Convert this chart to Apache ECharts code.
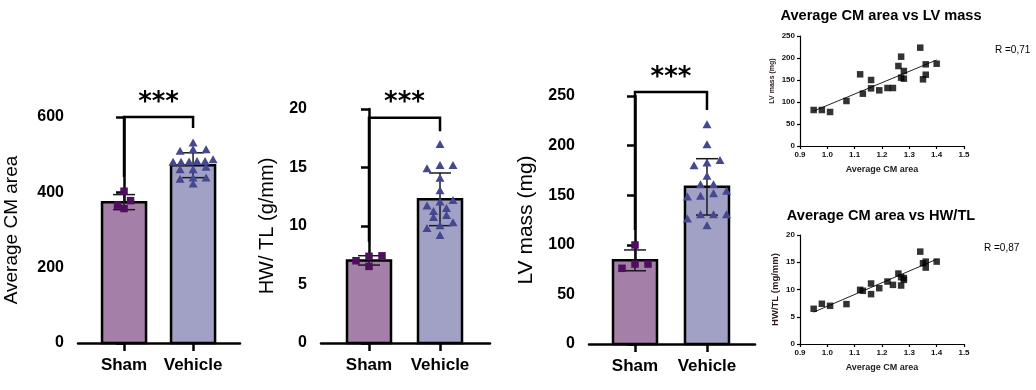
<!DOCTYPE html>
<html><head><meta charset="utf-8">
<script src="https://cdn.jsdelivr.net/npm/echarts@6/dist/echarts.min.js"></script>
<style>html,body{margin:0;padding:0;background:#fff}#c{width:1036px;height:390px}</style>
</head><body><div id="c"></div>
<script>
const groups = ['Sham', 'Vehicle'];
const sigLabel = '***';
// Average CM area
const cmSham = [403, 378, 366, 357];
const cmVehicle = [530, 512, 508, 512, 481, 479, 486, 480, 479, 481, 459, 459, 466, 437, 434, 437, 421];
const cmMean = [374, 472];
const cmSD = [20, 33];
const cmBracket = [441, 600, 571];
// HW/TL
const hwSham = [7.41, 7.45, 7.03, 6.55];
const hwVehicle = [16.95, 15.15, 14.87, 15.15, 14.05, 12.98, 12.02, 12.16, 11.22, 11.48, 11.68, 10.88, 10.7, 9.99, 10.26, 9.77, 9.17];
const hwMean = [7.06, 12.28];
const hwSD = [0.4, 2.25];
const hwBracket = [8.66, 19.26, 18.1];
// LV mass
const lvSham = [99.8, 76.3, 80.6, 80.6];
const lvVehicle = [220.8, 200.6, 184.8, 182.2, 179.4, 168.7, 160.3, 160.3, 148.6, 151.2, 147.9, 153.6, 130, 130, 125.7, 130, 119];
const lvMean = [84.3, 158.4];
const lvSD = [10.5, 28.4];
const lvBracket = [115, 254, 236];
// correlations
const cmRel = [0.95, 0.98, 1.01, 1.07, 1.12, 1.13, 1.16, 1.16, 1.19, 1.22, 1.24, 1.26, 1.27, 1.27, 1.28, 1.28, 1.34, 1.35, 1.36, 1.36, 1.40];
const lvPts = [81.8, 81.8, 77.3, 102.3, 162.9, 118.9, 150, 131, 126.5, 131.8, 131.8, 181.8, 203, 155.3, 170.5, 153, 223.5, 151.5, 162, 185.6, 187];
const hwPts = [6.46, 7.38, 7.01, 7.32, 9.94, 9.76, 11.1, 9.15, 10.24, 11.46, 10.85, 12.93, 10.73, 12.26, 11.77, 12.1, 16.95, 14.82, 15.12, 14.02, 15.12];
const lvFit = [[0.95, 79.5], [1.40, 195.5]];
const hwFit = [[0.95, 5.85], [1.40, 15.55]];
const rTexts = ['R =0,71', 'R =0,87'];
const scatterTitles = ['Average CM area vs LV mass', 'Average CM area vs HW/TL'];
const barNames = ['Average CM area', 'HW/ TL (g/mm)', 'LV mass (mg)'];
const corrNames = ['LV mass (mg)', 'HW/TL (mg/mm)', 'Average CM area'];

const FONT = '"Liberation Sans", Arial, sans-serif';
const barColors = ['#a47fa7', '#a1a1c5'];
const ptColors = ['#4d0f5e', '#45488f'];

const chart = echarts.init(document.getElementById('c'), null, {renderer: 'canvas'});

const grids = [
  {left: 78, top: 117, width: 162, height: 226},
  {left: 321, top: 109, width: 169, height: 234},
  {left: 589, top: 96, width: 166, height: 248},
  {left: 800, top: 36, width: 164, height: 110},
  {left: 800, top: 235, width: 164, height: 109}
];
const xRanges = [[-0.667, 1.68], [-0.676, 1.704], [-0.639, 1.667]];
// min, max, interval, nameGap, name font size
const yCfg = [[0, 600, 200, 57, 19], [0, 20, 5, 44, 20], [0, 250, 50, 52, 21]];

const xAxes = [], yAxes = [];
for (let i = 0; i < 3; i++) {
  xAxes.push({
    gridIndex: i, type: 'value', min: xRanges[i][0], max: xRanges[i][1],
    axisLine: {show: true, lineStyle: {color: '#000', width: 2.5}},
    axisTick: {show: true, customValues: [0, 1], length: 8, lineStyle: {color: '#000', width: 2.5}},
    axisLabel: {customValues: [0, 1], formatter: v => groups[Math.round(v)], fontSize: 17, fontWeight: 'bold', color: '#000', margin: 14, fontFamily: FONT},
    splitLine: {show: false}
  });
  yAxes.push({
    gridIndex: i, type: 'value', min: yCfg[i][0], max: yCfg[i][1], interval: yCfg[i][2],
    axisLine: {show: true, lineStyle: {color: '#000', width: 2.5}},
    axisTick: {show: true, length: 8, lineStyle: {color: '#000', width: 2.5}},
    axisLabel: {fontSize: 16, fontWeight: 'bold', color: '#000', margin: 14, fontFamily: FONT},
    splitLine: {show: false},
    name: barNames[i], nameLocation: 'middle', nameGap: yCfg[i][3],
    nameTextStyle: {fontSize: yCfg[i][4], color: '#000', fontFamily: FONT}
  });
}
// min, max, interval, nameGap, fontSize, shift padding
const sY = [[0, 250, 50, 24, 7, 20], [0, 20, 5, 20, 9.5, 0]];
for (let j = 0; j < 2; j++) {
  const gi = 3 + j;
  xAxes.push({
    gridIndex: gi, type: 'value', min: 0.9, max: 1.5, interval: 0.1,
    axisLine: {show: true, lineStyle: {color: '#000', width: 1.2}},
    axisTick: {show: true, length: 3, lineStyle: {color: '#000', width: 1.2}},
    axisLabel: {formatter: v => v.toFixed(1), fontSize: 8, fontWeight: 'bold', color: '#111', margin: 5, fontFamily: FONT},
    splitLine: {show: false},
    name: corrNames[2], nameLocation: 'middle', nameGap: 19,
    nameTextStyle: {fontSize: 9, fontWeight: 'bold', color: '#222', fontFamily: FONT}
  });
  yAxes.push({
    gridIndex: gi, type: 'value', min: sY[j][0], max: sY[j][1], interval: sY[j][2],
    axisLine: {show: true, lineStyle: {color: '#000', width: 1.2}},
    axisTick: {show: true, length: 3, lineStyle: {color: '#000', width: 1.2}},
    axisLabel: {fontSize: 8, fontWeight: 'bold', color: '#111', margin: 5, fontFamily: FONT},
    splitLine: {show: false},
    name: corrNames[j], nameLocation: 'middle', nameGap: sY[j][3],
    nameTextStyle: {fontSize: sY[j][4], fontWeight: 'bold', color: '#2a1a1a', fontFamily: FONT, padding: [0, 0, 0, sY[j][5]]}
  });
}

const series = [];
function barSeries(gi, means, sds) {
  series.push({
    type: 'custom', xAxisIndex: gi, yAxisIndex: gi, z: 2,
    data: means.map((m, i) => [i, m]),
    renderItem: (params, api) => {
      const x = api.value(0);
      const p0 = api.coord([x, 0]);
      const p1 = api.coord([x, api.value(1)]);
      return {type: 'rect', shape: {x: p0[0] - 22, y: p1[1], width: 44, height: p0[1] - p1[1]},
        style: {fill: barColors[params.dataIndex], stroke: '#000', lineWidth: 2.5}};
    }
  });
  series.push({
    type: 'custom', xAxisIndex: gi, yAxisIndex: gi, z: 3,
    data: means.map((m, i) => [i, m, sds[i]]),
    renderItem: (params, api) => {
      const x = api.value(0), m = api.value(1), s = api.value(2);
      const pt = api.coord([x, m + s]), pb = api.coord([x, m - s]);
      const cw = 11;
      const st = {stroke: '#1a1a1a', lineWidth: 1.5, fill: null};
      return {type: 'group', children: [
        {type: 'line', shape: {x1: pt[0], y1: pt[1], x2: pb[0], y2: pb[1]}, style: st},
        {type: 'line', shape: {x1: pt[0] - cw, y1: pt[1], x2: pt[0] + cw, y2: pt[1]}, style: st},
        {type: 'line', shape: {x1: pb[0] - cw, y1: pb[1], x2: pb[0] + cw, y2: pb[1]}, style: st}
      ]};
    }
  });
}
// row-binned dot layout (points with close values share a row, centred on the category)
function swarmSeries(gi, gIdx, values, shape) {
  let layout = null;
  series.push({
    type: 'custom', xAxisIndex: gi, yAxisIndex: gi, z: 4,
    data: values.map(v => [gIdx, v]),
    renderItem: (params, api) => {
      if (params.dataIndex === 0 || !layout) {
        const pts = values.map((v, i) => ({i, c: api.coord([gIdx, v])}));
        const order = pts.slice().sort((a, b) => a.c[1] - b.c[1]);
        const rows = [];
        order.forEach(p => {
          const r = rows[rows.length - 1];
          if (r && p.c[1] - r[0].c[1] <= 6) r.push(p); else rows.push([p]);
        });
        layout = [];
        rows.forEach(r => {
          r.sort((a, b) => b.c[1] - a.c[1]);
          const n = r.length;
          const step = n > 1 ? Math.min(13, 40 / (n - 1)) : 0;
          r.forEach((p, k) => {
            layout[p.i] = [p.c[0] + (k - (n - 1) / 2) * step, p.c[1]];
          });
        });
      }
      const [cx, cy] = layout[params.dataIndex];
      const col = ptColors[gIdx];
      if (shape === 'square') {
        const s = 7.5;
        return {type: 'rect', shape: {x: cx - s / 2, y: cy - s / 2, width: s, height: s}, style: {fill: col}};
      }
      const w = 9, th = 8;
      return {type: 'polygon', shape: {points: [[cx, cy - th * 0.6], [cx - w / 2, cy + th * 0.4], [cx + w / 2, cy + th * 0.4]]}, style: {fill: col}};
    }
  });
}
function bracketSeries(gi, b) {
  series.push({
    type: 'custom', xAxisIndex: gi, yAxisIndex: gi, z: 5, clip: false,
    data: [[0, b[0], b[1], 1, b[2]]],
    renderItem: (params, api) => {
      const a = api.coord([api.value(0), api.value(1)]);
      const t1 = api.coord([api.value(0), api.value(2)]);
      const t2 = api.coord([api.value(3), api.value(2)]);
      const d = api.coord([api.value(3), api.value(4)]);
      return {type: 'group', children: [
        {type: 'polyline', shape: {points: [a, t1, t2, d]}, style: {stroke: '#000', lineWidth: 2.5, fill: null}},
        {type: 'text', x: (t1[0] + t2[0]) / 2, y: t1[1] - 14,
          style: {text: sigLabel, font: 'bold 26px "DejaVu Sans", sans-serif', fill: '#000', align: 'center', verticalAlign: 'middle', textAlign: 'center', textVerticalAlign: 'middle'}}
      ]};
    }
  });
}
const sets = [
  [cmSham, cmVehicle, cmMean, cmSD, cmBracket],
  [hwSham, hwVehicle, hwMean, hwSD, hwBracket],
  [lvSham, lvVehicle, lvMean, lvSD, lvBracket]
];
sets.forEach((s, gi) => {
  barSeries(gi, s[2], s[3]);
  swarmSeries(gi, 0, s[0], 'square');
  swarmSeries(gi, 1, s[1], 'triangle');
  bracketSeries(gi, s[4]);
});
[[lvPts, lvFit], [hwPts, hwFit]].forEach((s, j) => {
  const gi = 3 + j;
  series.push({type: 'line', xAxisIndex: gi, yAxisIndex: gi, data: s[1], showSymbol: false, symbol: 'none',
    lineStyle: {color: '#222', width: 1}, z: 2});
  series.push({type: 'scatter', xAxisIndex: gi, yAxisIndex: gi, data: cmRel.map((x, i) => [x, s[0][i]]),
    symbol: 'rect', symbolSize: 6.5, itemStyle: {color: '#000'}, z: 3});
});

const graphic = [
  {type: 'text', x: 881, y: 16, style: {text: scatterTitles[0], font: 'bold 14.6px ' + FONT, fill: '#000', align: 'center', verticalAlign: 'middle', textAlign: 'center', textVerticalAlign: 'middle'}},
  {type: 'text', x: 881, y: 216, style: {text: scatterTitles[1], font: 'bold 14.6px ' + FONT, fill: '#000', align: 'center', verticalAlign: 'middle', textAlign: 'center', textVerticalAlign: 'middle'}},
  {type: 'text', x: 995, y: 50, style: {text: rTexts[0], font: '10px ' + FONT, fill: '#000', align: 'left', verticalAlign: 'middle', textAlign: 'left', textVerticalAlign: 'middle'}},
  {type: 'text', x: 984, y: 248, style: {text: rTexts[1], font: '10px ' + FONT, fill: '#000', align: 'left', verticalAlign: 'middle', textAlign: 'left', textVerticalAlign: 'middle'}}
];

chart.setOption({
  animation: false,
  backgroundColor: '#fff',
  textStyle: {fontFamily: FONT},
  grid: grids,
  xAxis: xAxes,
  yAxis: yAxes,
  series: series,
  graphic: graphic
});
</script>
</body></html>
